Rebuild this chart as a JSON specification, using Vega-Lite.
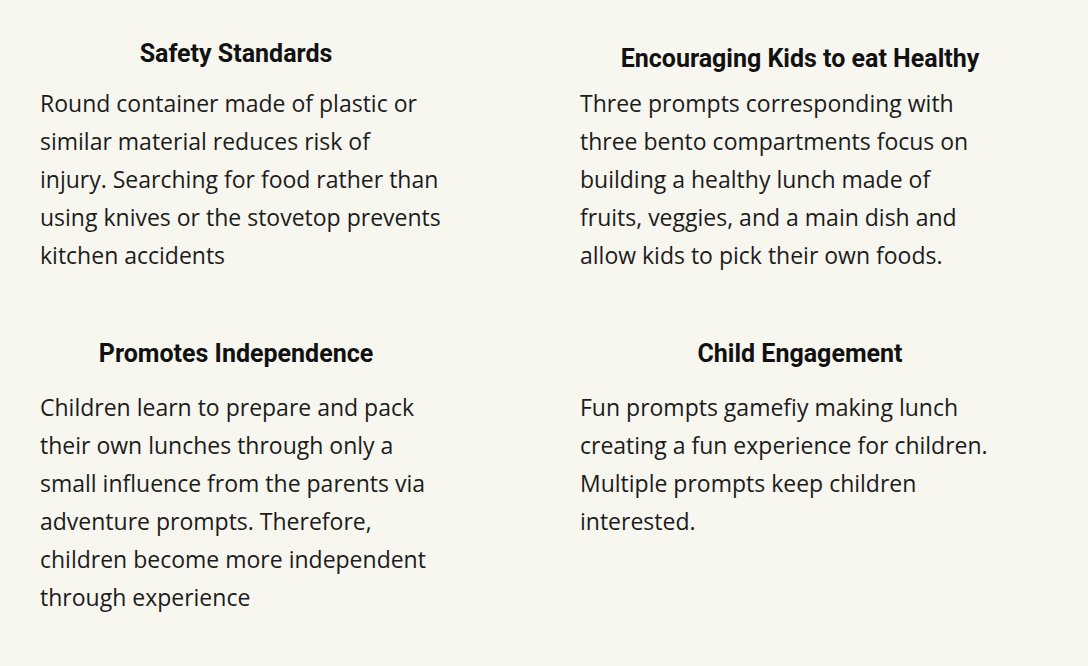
{
  "$schema": "https://vega.github.io/schema/vega-lite/v6.json",
  "width": 1088,
  "height": 666,
  "padding": 0,
  "autosize": "none",
  "background": "#f7f6ef",
  "config": {"view": {"stroke": null}},
  "resolve": {"scale": {"x": "independent", "y": "independent"}},
  "layer": [
    {
      "data": {
        "values": [
          {"col": 0, "line": -1.35, "text": "Safety Standards"},
          {"col": 1, "line": -1.22, "text": "Encouraging Kids to eat Healthy"},
          {"col": 0, "line": 6.55, "text": "Promotes Independence"},
          {"col": 1, "line": 6.55, "text": "Child Engagement"}
        ]
      },
      "mark": {"type": "text", "font": "Roboto", "fontWeight": "bold", "fontSize": 25, "align": "center", "baseline": "middle", "color": "#111111"},
      "encoding": {
        "x": {"field": "col", "type": "quantitative", "scale": {"domain": [0, 1], "range": [236, 800]}, "axis": null},
        "y": {"field": "line", "type": "quantitative", "scale": {"domain": [0, 1], "range": [105, 143], "zero": false, "nice": false}, "axis": null},
        "text": {"field": "text"}
      }
    },
    {
      "data": {
        "values": [
          {"col": 0, "line": 0, "text": "Round container made of plastic or"},
          {"col": 0, "line": 1, "text": "similar material reduces risk of"},
          {"col": 0, "line": 2, "text": "injury. Searching for food rather than"},
          {"col": 0, "line": 3, "text": "using knives or the stovetop prevents"},
          {"col": 0, "line": 4, "text": "kitchen accidents"},
          {"col": 1, "line": 0, "text": "Three prompts corresponding with"},
          {"col": 1, "line": 1, "text": "three bento compartments focus on"},
          {"col": 1, "line": 2, "text": "building a healthy lunch made of"},
          {"col": 1, "line": 3, "text": "fruits, veggies, and a main dish and"},
          {"col": 1, "line": 4, "text": "allow kids to pick their own foods."},
          {"col": 0, "line": 8, "text": "Children learn to prepare and pack"},
          {"col": 0, "line": 9, "text": "their own lunches through only a"},
          {"col": 0, "line": 10, "text": "small influence from the parents via"},
          {"col": 0, "line": 11, "text": "adventure prompts. Therefore,"},
          {"col": 0, "line": 12, "text": "children become more independent"},
          {"col": 0, "line": 13, "text": "through experience"},
          {"col": 1, "line": 8, "text": "Fun prompts gamefiy making lunch"},
          {"col": 1, "line": 9, "text": "creating a fun experience for children."},
          {"col": 1, "line": 10, "text": "Multiple prompts keep children"},
          {"col": 1, "line": 11, "text": "interested."}
        ]
      },
      "mark": {"type": "text", "font": "Open Sans", "fontSize": 23, "letterSpacing": 1, "align": "left", "baseline": "middle", "color": "#1c1c1c"},
      "encoding": {
        "x": {"field": "col", "type": "quantitative", "scale": {"domain": [0, 1], "range": [40, 580]}, "axis": null},
        "y": {"field": "line", "type": "quantitative", "scale": {"domain": [0, 1], "range": [105, 143], "zero": false, "nice": false}, "axis": null},
        "text": {"field": "text"}
      }
    }
  ]
}
